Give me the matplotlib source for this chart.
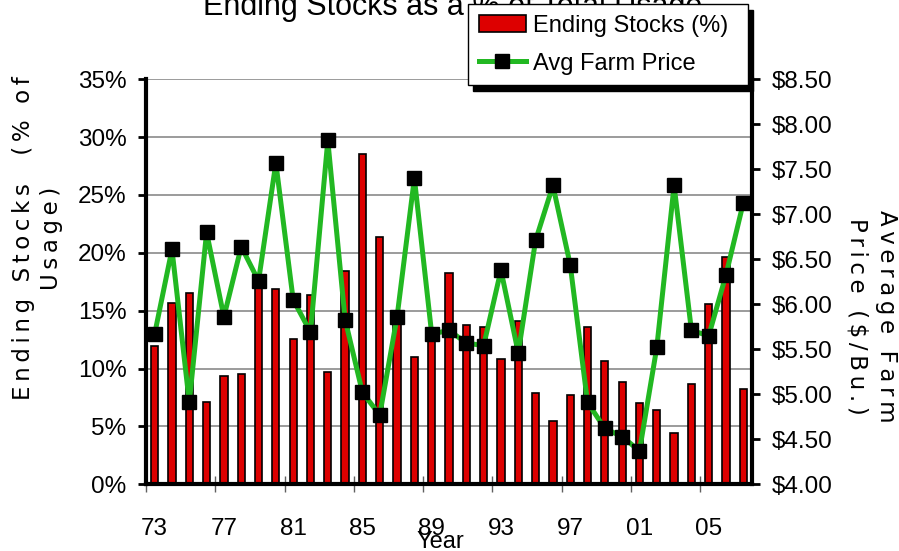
import matplotlib.pyplot as plt
import numpy as np
from matplotlib import font_manager

# Données (soja, 1973-2007)
years = list(range(1973, 2008))
stocks_pct = [11.95, 15.64, 16.56, 7.14, 9.39, 9.56, 16.94, 16.9, 12.53, 16.36,
              9.73, 18.41, 28.55, 21.35, 14.5, 11.03, 12.5, 18.24, 13.77, 13.6,
              10.83, 14.14, 7.89, 5.5, 7.72, 13.6, 10.66, 8.82, 7.0, 6.42,
              4.41, 8.64, 15.61, 19.67, 8.24]
farm_price = [5.67, 6.61, 4.91, 6.80, 5.86, 6.64, 6.26, 7.57, 6.05, 5.69,
              7.82, 5.83, 5.02, 4.77, 5.86, 7.40, 5.67, 5.71, 5.57, 5.54,
              6.38, 5.46, 6.71, 7.32, 6.44, 4.91, 4.62, 4.53, 4.37, 5.52,
              7.32, 5.71, 5.65, 6.33, 7.13]
year_labels = ['73', '77', '81', '85', '89', '93', '97', '01', '05']
pct_ticks = [0, 5, 10, 15, 20, 25, 30, 35]
price_ticks = [4.0, 4.5, 5.0, 5.5, 6.0, 6.5, 7.0, 7.5, 8.0, 8.5]

plt.rcParams['font.family'] = ['Liberation Sans', 'DejaVu Sans']

# police étroite pour le titre si disponible
installed = {f.name for f in font_manager.fontManager.ttflist}
if 'Liberation Sans Narrow' in installed:
    title_font, title_size = 'Liberation Sans Narrow', 27
else:
    title_font, title_size = 'Liberation Sans', 22


def spaced(s):
    # espacement des lettres comme dans l'original
    return '\u2009'.join(s)


fig = plt.figure(figsize=(8.99, 5.51), dpi=100)
ax = fig.add_axes([0.1624, 0.1211, 0.6741, 0.7350])
ax2 = ax.twinx()

x = np.arange(len(years))
bars = ax.bar(x, stocks_pct, width=0.42, color='#DD0000', edgecolor='black',
              linewidth=1.2, label='Ending Stocks (%)', zorder=2)
ax.set_xlim(-0.5, len(years) - 0.5)
ax.set_ylim(0, 35)
ax.set_yticks(pct_ticks)
ax.set_yticklabels([f'{v}%' for v in pct_ticks])
ax.yaxis.grid(True, color='#808080', linewidth=1.1)
ax.set_axisbelow(True)

ax.set_xticks(x[::4])
ax.set_xticklabels(year_labels)
ax.set_xticks(np.arange(-0.5, len(years), 4), minor=True)
ax.tick_params(axis='x', which='major', length=0, pad=24, labelsize=17.5)
ax.tick_params(axis='x', which='minor', length=12, direction='inout',
               width=1, color='#606060')
ax.tick_params(axis='y', length=6, width=2, pad=8, labelsize=17.5)

line, = ax2.plot(x, farm_price, color='#22B822', linewidth=3.6, marker='s',
                 markersize=9.6, markerfacecolor='black',
                 markeredgecolor='black', label='Avg Farm Price', zorder=3)
ax2.set_ylim(4, 8.5)
ax2.set_yticks(price_ticks)
ax2.set_yticklabels([f'${v:.2f}' for v in price_ticks])
ax2.tick_params(axis='y', length=6, width=2, pad=8, labelsize=17.5)

ax.spines['top'].set_visible(False)
ax.spines['right'].set_visible(False)
for s in ('top', 'left', 'bottom'):
    ax2.spines[s].set_visible(False)
ax.spines['left'].set_linewidth(3)
ax.spines['bottom'].set_linewidth(3)
ax2.spines['right'].set_linewidth(3)

# Titre (coupé en haut comme l'original)
ax.text(453 / 899, 1 - 15 / 551, 'Ending Stocks as a % of Total Usage',
        transform=fig.transFigure, ha='center', va='baseline',
        fontsize=title_size, family=title_font, clip_on=False)

ax2.legend([bars, line], ['Ending Stocks (%)', 'Avg Farm Price'],
           loc='upper left', mode='expand',
           bbox_to_anchor=(468 / 899, 1 - 82 / 551, 280 / 899, 78 / 551),
           bbox_transform=fig.transFigure, borderaxespad=0, fancybox=False,
           edgecolor='black', framealpha=1, fontsize=17, handlelength=2.0,
           handleheight=0.7, handletextpad=0.3, borderpad=0.45,
           labelspacing=0.68,
           shadow={'ox': 3.5, 'oy': -4, 'color': 'black', 'alpha': 1})

fig.text(37.5 / 899, 1 - 238 / 551,
         spaced('Ending Stocks  (% of') + '\n' + spaced('Usage)'),
         rotation=90, ha='center', va='center', multialignment='center',
         fontsize=16.5, family='DejaVu Sans', linespacing=1.25)
fig.text(871.5 / 899, 1 - 316 / 551,
         spaced('Average Farm') + '\n' + spaced('Price ($/Bu.)'),
         rotation=-90, ha='center', va='center', multialignment='center',
         fontsize=16.5, family='DejaVu Sans', linespacing=1.35)
fig.text(440 / 899, 1 - 548 / 551, 'Year', ha='center', va='baseline',
         fontsize=17)

fig.savefig('out.png', dpi=100)
